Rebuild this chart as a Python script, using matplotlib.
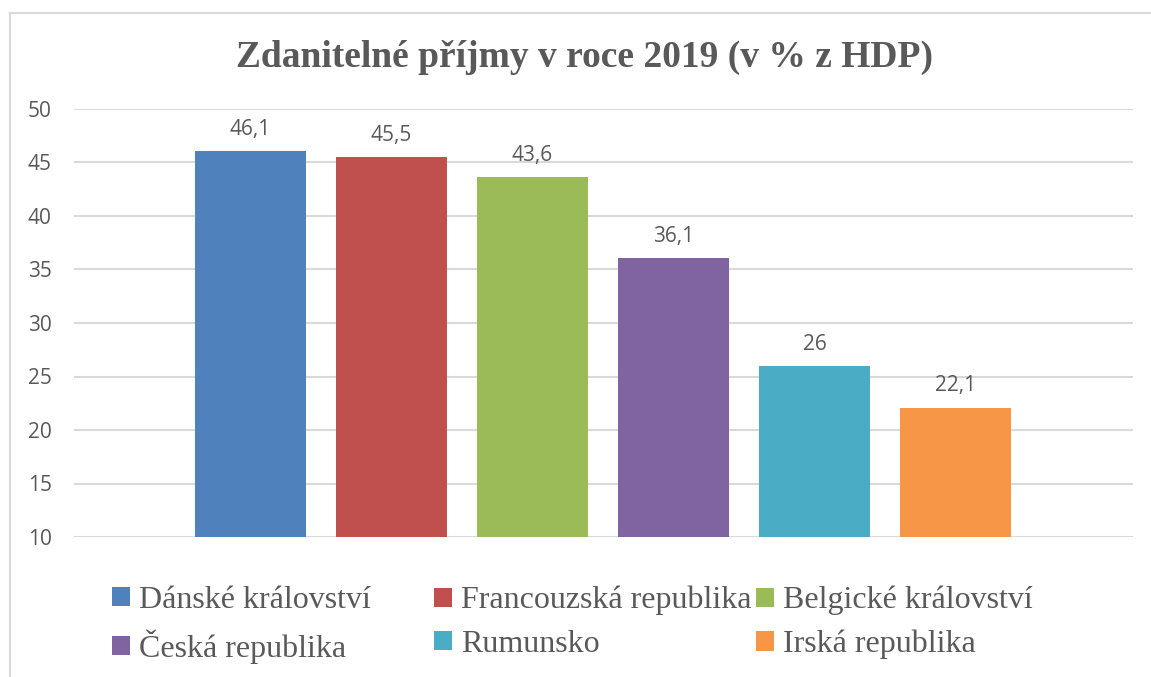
import matplotlib.pyplot as plt
from matplotlib.lines import Line2D

# data
countries = ['Dánské království', 'Francouzská republika', 'Belgické království',
             'Česká republika', 'Rumunsko', 'Irská republika']
values = [46.1, 45.5, 43.6, 36.1, 26, 22.1]
colors = ['#4F81BD', '#C0504D', '#9BBB59', '#8064A2', '#4BACC6', '#F79646']
yticks = [10, 15, 20, 25, 30, 35, 40, 45, 50]
title = 'Zdanitelné příjmy v roce 2019 (v % z HDP)'

txt = '#595959'
grid = '#D9D9D9'

fig = plt.figure(figsize=(11.51, 6.77), dpi=100)
ax = fig.add_axes([74/1151, 1-537/677, (1133-74)/1151, (537-109)/677])

bars = []
for i, (c, v, col) in enumerate(zip(countries, values, colors)):
    b = ax.bar(i, v - 10, bottom=10, width=0.787, color=col, label=c, zorder=3)
    bars.append(b)
    ax.annotate('{:g}'.format(v).replace('.', ','), (i, v), xytext=(0, 8),
                textcoords='offset points', ha='center', va='bottom',
                fontsize=15, color=txt, family='Open Sans')

ax.set_xlim(-1.252, 6.259)
ax.set_ylim(10, 50)
ax.set_yticks(yticks)
ax.set_xticks([])
ax.grid(axis='y', color=grid, linewidth=1.5, zorder=0)
for s in ax.spines.values():
    s.set_visible(False)
ax.tick_params(axis='y', length=0, pad=16, labelsize=15, labelcolor=txt)
for lab in ax.get_yticklabels():
    lab.set_family('Open Sans')

fig.text(584/1151, 1-57/677, title, ha='center', va='center', fontsize=27,
         fontweight='bold', color=txt, family='Liberation Serif')

# legend, three columns of two rows
colx = [96, 418, 740]
for j in range(3):
    leg = fig.legend([bars[j], bars[j+3]], [countries[j], countries[j+3]],
                     loc='upper left', bbox_to_anchor=(colx[j]/1151, 1-570/677),
                     frameon=False, handlelength=0.55, handleheight=0.55,
                     handletextpad=0.3, labelspacing=0.45, borderpad=0,
                     prop={'family': 'Liberation Serif', 'size': 23})
    for t in leg.get_texts():
        t.set_color(txt)

# chart border (left and top visible)
fig.add_artist(Line2D([10/1151, 10/1151], [0, 1-13/677], color=grid, lw=1.5))
fig.add_artist(Line2D([10/1151, 1], [1-13/677, 1-13/677], color=grid, lw=1.5))

fig.savefig('out.png', dpi=100, facecolor='white')
